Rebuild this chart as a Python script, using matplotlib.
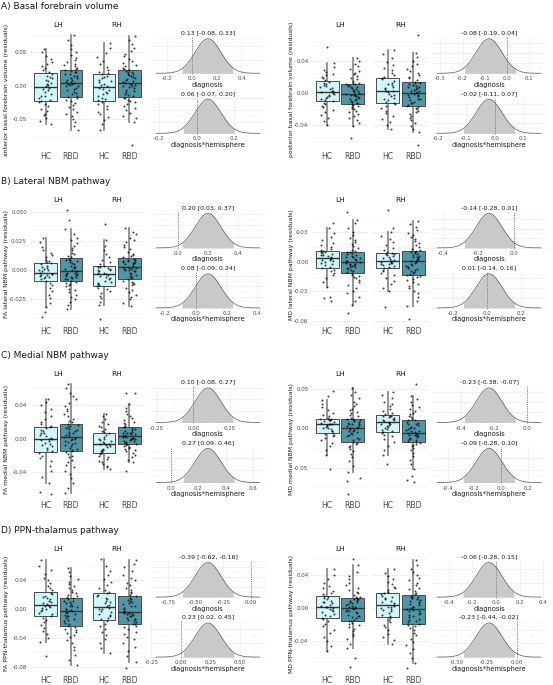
import numpy as np
import matplotlib
matplotlib.use("Agg")
import matplotlib.pyplot as plt
from matplotlib.ticker import MultipleLocator, AutoMinorLocator, FixedLocator, FuncFormatter, MaxNLocator

plt.rcParams['font.family'] = ['DejaVu Sans']

# ---------------- data ----------------
row_titles = ["A) Basal forebrain volume", "B) Lateral NBM pathway",
              "C) Medial NBM pathway", "D) PPN-thalamus pathway"]
hemis = ["LH", "RH"]
groups = ["HC", "RBD"]

# panel order: abf, pbf, fa_lat, md_lat, fa_med, md_med, fa_ppn, md_ppn
ylabels = ["anterior basal forebrain volume (residuals)",
           "posterior basal forebrain volume (residuals)",
           "FA lateral NBM pathway (residuals)",
           "MD lateral NBM pathway (residuals)",
           "FA medial NBM pathway (residuals)",
           "MD medial NBM pathway (residuals)",
           "FA PPN-thalamus pathway (residuals)",
           "MD PPN-thalamus pathway (residuals)"]

yticks_abf = ["-0.05", "0.00", "0.05"]
yticks_pbf = ["-0.04", "0.00", "0.04"]
yticks_fa_lat = ["-0.025", "0.000", "0.025", "0.050"]
yticks_md_lat = ["-0.06", "-0.03", "0.00", "0.03"]
yticks_fa_med = ["-0.04", "0.00", "0.04"]
yticks_md_med = ["-0.05", "0.00", "0.05"]
yticks_fa_ppn = ["-0.08", "-0.04", "0.00", "0.04"]
yticks_md_ppn = ["-0.04", "0.00", "0.04"]

# residual values (units of 1e-3)
abf_lh_hc = [-57,-53,-49,-44,-42,-38,-35,-31,-28,-25,-23,-21,-18,-16,-15,-12,-9,-7,-5,-3,
             -1,1,3,4,7,9,11,13,15,18,20,23,26,29,33,36,40,45,50,55]
abf_lh_rbd = [-66,-61,-55,-50,-46,-42,-39,-35,-32,-29,-26,-23,-21,-19,
              -17,-15,-13,-11,-9,-7,-5,-3,-1,0,1,2,3,4,
              5,6,8,9,11,12,14,15,17,18,20,21,22,24,
              25,27,29,31,33,36,39,42,46,50,55,61,68,76]
abf_rh_hc = [-66,-58,-52,-47,-43,-39,-35,-31,-27,-24,-22,-20,-18,-15,-13,-11,-9,-7,-5,-3,
             -1,1,3,5,7,9,11,13,15,17,19,21,24,28,32,37,43,49,56,64]
abf_rh_rbd = [-88,-54,-49,-45,-41,-37,-34,-31,-28,-25,-23,-21,-19,-18,
              -16,-14,-12,-10,-8,-6,-4,-2,-1,0,1,2,3,4,
              5,7,8,10,11,13,14,16,17,18,20,21,22,24,
              25,27,29,31,34,37,40,44,48,52,57,63,69,75]

pbf_lh_hc = [-40,-35,-31,-27,-24,-21,-18,-16,-14,-12,-10,-9,-8,-6,-5,-4,-2,-1,0,1,
             2,3,5,6,7,9,10,11,13,14,16,18,20,22,24,26,29,32,37,57]
pbf_lh_rbd = [-56,-41,-37,-34,-31,-28,-26,-24,-22,-20,-19,-18,-16,-15,
              -14,-13,-12,-11,-10,-9,-8,-7,-6,-5,-4,-3,-3,-2,
              -1,0,1,2,3,4,5,6,7,8,9,10,11,11,
              12,13,15,17,19,21,23,25,27,30,33,36,40,43]
pbf_rh_hc = [-45,-40,-36,-32,-28,-25,-22,-19,-16,-14,-12,-11,-9,-7,-6,-4,-2,-1,1,2,
             3,5,6,8,10,11,13,15,17,18,20,22,25,28,31,35,39,43,48,53]
pbf_rh_rbd = [-64,-49,-45,-41,-37,-34,-31,-28,-26,-24,-22,-20,-19,-17,
              -16,-15,-13,-12,-11,-9,-8,-7,-5,-4,-3,-2,-1,0,
              0,1,2,3,4,5,6,7,8,9,10,11,12,13,
              14,16,18,20,22,25,27,30,33,36,40,45,50,72]

fa_lat_lh_hc = [-40,-36,-32,-28,-24,-21,-18,-15,-13,-11,-9,-8,-7,-6,-6,-5,-4,-4,-3,-3,
                -2,-1,0,0,1,2,3,4,5,6,7,8,9,11,13,15,17,20,24,28]
fa_lat_lh_rbd = [-33,-30,-27,-25,-23,-21,-19,-17,-16,-14,-13,-12,-11,-10,
                 -9,-8,-8,-7,-6,-6,-5,-4,-4,-3,-3,-2,-2,-1,
                 -1,0,1,2,3,3,4,5,6,7,8,9,9,10,
                 11,12,14,15,17,19,21,23,26,28,31,35,43,52]
fa_lat_rh_hc = [-42,-30,-27,-24,-22,-20,-18,-16,-15,-14,-13,-12,-11,-10,-9,-8,-7,-6,-5,-4,
                -3,-2,-2,-1,0,0,1,2,3,3,4,5,7,9,11,14,17,21,26,40]
fa_lat_rh_rbd = [-31,-28,-25,-23,-21,-19,-17,-15,-13,-12,-11,-10,-9,-8,
                 -7,-6,-5,-4,-3,-2,-1,-1,0,0,1,1,2,2,
                 3,3,4,5,5,6,6,7,7,8,8,9,9,10,
                 11,12,13,14,16,18,20,22,24,26,28,31,33,36]

md_lat_lh_hc = [-40,-37,-36,-25,-20,-16,-13,-11,-9,-8,-6,-5,-3,-2,-1,0,1,2,2,3,
                4,5,6,7,7,8,9,10,10,11,12,13,15,17,19,22,25,29,34,39]
md_lat_lh_rbd = [-52,-44,-40,-36,-32,-29,-26,-23,-20,-18,-16,-15,-14,-13,
                 -11,-10,-9,-8,-7,-6,-5,-5,-4,-3,-3,-2,-2,-1,
                 0,1,1,2,3,4,5,5,6,7,8,9,10,10,
                 11,12,14,16,18,20,22,24,27,30,34,39,42,51]
md_lat_rh_hc = [-46,-30,-26,-22,-19,-16,-13,-11,-9,-8,-6,-5,-4,-3,-2,-2,-1,-1,0,0,
                1,2,3,4,5,6,7,8,8,9,10,12,14,17,20,23,26,30,34,53]
md_lat_rh_rbd = [-58,-45,-40,-36,-32,-29,-26,-24,-22,-20,-18,-17,-15,-14,
                 -13,-12,-11,-10,-9,-8,-7,-6,-5,-4,-3,-2,-1,0,
                 1,1,2,3,4,5,5,6,7,8,9,10,10,11,
                 12,13,15,17,19,21,23,25,27,29,32,35,38,41]

fa_med_lh_hc = [-65,-63,-52,-45,-38,-32,-27,-23,-20,-17,-15,-13,-11,-9,-8,-6,-5,-3,-2,-1,
                0,1,3,4,6,7,9,10,12,13,15,17,20,23,27,31,35,39,43,46]
fa_med_lh_rbd = [-64,-58,-52,-47,-42,-38,-34,-31,-28,-25,-22,-20,-18,-16,
                 -15,-14,-12,-11,-9,-8,-6,-5,-4,-3,-2,-1,0,1,
                 2,3,4,5,6,8,9,10,11,12,14,15,16,17,
                 19,21,23,26,29,32,35,38,42,46,50,54,59,64]
fa_med_rh_hc = [-36,-34,-32,-30,-28,-26,-24,-22,-20,-18,-17,-16,-15,-14,-13,-12,-10,-9,-8,-7,
                -6,-5,-4,-3,-2,-1,0,2,4,6,8,9,11,13,15,17,20,23,26,29]
fa_med_rh_rbd = [-38,-28,-25,-22,-19,-17,-15,-13,-12,-11,-10,-9,-8,-7,
                 -6,-5,-4,-3,-3,-2,-1,-1,0,0,1,1,2,2,
                 3,3,4,5,5,6,7,7,8,9,10,11,12,13,
                 14,15,17,18,20,22,24,26,29,32,36,41,54,54]

md_med_lh_hc = [-52,-34,-28,-23,-19,-15,-12,-10,-8,-7,-6,-4,-3,-1,0,1,2,3,4,5,
                5,6,7,8,9,10,10,11,12,12,13,15,17,20,23,27,31,36,41,47]
md_med_lh_rbd = [-83,-67,-63,-55,-48,-42,-37,-33,-29,-26,-24,-22,-20,-19,
                 -17,-15,-13,-12,-10,-9,-7,-6,-5,-4,-3,-2,-1,0,
                 1,2,3,4,5,6,6,7,8,9,10,11,12,12,
                 13,15,17,19,21,23,25,28,31,34,38,42,46,51]
md_med_rh_hc = [-45,-34,-28,-22,-17,-13,-10,-8,-6,-5,-4,-2,-1,1,2,3,4,5,6,7,
                8,9,10,11,12,13,14,15,16,16,18,20,22,25,28,31,34,38,42,46]
md_med_rh_rbd = [-68,-66,-60,-52,-45,-40,-35,-31,-28,-25,-23,-21,-20,-19,
                 -17,-16,-15,-14,-13,-12,-11,-10,-9,-8,-8,-7,-6,-6,
                 -5,-4,-3,-2,-1,0,1,2,4,5,6,7,8,10,
                 11,12,14,16,18,20,22,24,27,30,33,37,41,56]

fa_ppn_lh_hc = [-65,-45,-40,-35,-30,-26,-22,-18,-15,-12,-9,-7,-5,-3,-1,0,2,3,4,5,
                7,8,10,12,14,15,17,19,21,23,26,29,32,36,40,44,49,54,60,68]
fa_ppn_lh_rbd = [-77,-70,-63,-57,-52,-47,-43,-39,-36,-33,-31,-29,-27,-25,
                 -23,-21,-19,-17,-15,-14,-12,-10,-9,-8,-6,-5,-4,-3,
                 -2,-1,0,1,3,4,5,7,8,10,11,12,14,15,
                 17,18,20,22,24,26,29,32,35,38,42,46,51,57]
fa_ppn_rh_hc = [-61,-54,-47,-41,-36,-31,-27,-23,-20,-17,-14,-12,-10,-8,-6,-4,-2,0,1,2,
                4,6,8,10,12,14,16,18,20,22,24,27,30,34,38,42,47,53,60,70]
fa_ppn_rh_rbd = [-82,-73,-65,-58,-52,-47,-42,-38,-34,-31,-28,-25,-23,-21,
                 -20,-18,-17,-15,-14,-13,-12,-10,-9,-8,-7,-6,-5,-5,
                 -4,-2,0,2,4,5,7,8,10,11,13,14,16,18,
                 20,22,24,27,30,33,36,40,44,48,53,58,63,68]

md_ppn_lh_hc = [-52,-46,-40,-35,-30,-26,-22,-19,-16,-13,-12,-10,-8,-7,-5,-4,-2,-1,0,1,
                2,3,4,6,7,8,9,11,12,14,15,17,19,21,24,27,31,35,40,47]
md_ppn_lh_rbd = [-71,-61,-48,-43,-38,-34,-31,-28,-25,-23,-21,-19,-18,-16,
                 -15,-14,-12,-11,-10,-9,-8,-6,-5,-4,-3,-2,-1,0,
                 0,1,2,3,4,5,6,7,8,9,10,11,11,12,
                 13,14,16,18,20,22,25,28,31,35,39,44,53,60]
md_ppn_rh_hc = [-43,-39,-35,-31,-27,-23,-20,-17,-14,-12,-10,-8,-6,-4,-2,-1,0,1,2,3,
                4,6,8,9,11,12,14,15,17,18,20,22,24,26,29,32,35,39,43,47]
md_ppn_rh_rbd = [-73,-67,-61,-55,-50,-45,-41,-37,-33,-30,-27,-24,-22,-20,
                 -19,-17,-16,-14,-13,-11,-10,-8,-7,-6,-4,-3,-2,-1,
                 0,1,2,4,5,6,7,9,10,11,12,13,14,15,
                 17,19,21,23,25,28,31,34,37,40,44,48,53,58]

# posterior estimates [95% interval]
diag_est = [0.13, -0.08, 0.20, -0.14, 0.10, -0.23, -0.39, -0.06]
diag_lo = [-0.08, -0.19, 0.03, -0.28, -0.08, -0.38, -0.62, -0.28]
diag_hi = [0.33, 0.04, 0.37, 0.01, 0.27, -0.07, -0.16, 0.15]
int_est = [0.06, -0.02, 0.08, 0.01, 0.27, -0.09, 0.23, -0.23]
int_lo = [-0.07, -0.11, -0.09, -0.14, 0.09, -0.28, 0.02, -0.44]
int_hi = [0.20, 0.07, 0.24, 0.16, 0.46, 0.10, 0.45, -0.02]

panel_points = [
    [abf_lh_hc, abf_lh_rbd, abf_rh_hc, abf_rh_rbd],
    [pbf_lh_hc, pbf_lh_rbd, pbf_rh_hc, pbf_rh_rbd],
    [fa_lat_lh_hc, fa_lat_lh_rbd, fa_lat_rh_hc, fa_lat_rh_rbd],
    [md_lat_lh_hc, md_lat_lh_rbd, md_lat_rh_hc, md_lat_rh_rbd],
    [fa_med_lh_hc, fa_med_lh_rbd, fa_med_rh_hc, fa_med_rh_rbd],
    [md_med_lh_hc, md_med_lh_rbd, md_med_rh_hc, md_med_rh_rbd],
    [fa_ppn_lh_hc, fa_ppn_lh_rbd, fa_ppn_rh_hc, fa_ppn_rh_rbd],
    [md_ppn_lh_hc, md_ppn_lh_rbd, md_ppn_rh_hc, md_ppn_rh_rbd],
]
panel_yticks = [yticks_abf, yticks_pbf, yticks_fa_lat, yticks_md_lat,
                yticks_fa_med, yticks_md_med, yticks_fa_ppn, yticks_md_ppn]

# ---------------- style / layout ----------------
W, H = 553, 685
HC_COLOR = "#D2F7FB"
RBD_COLOR = "#4F97A7"
GRID = "#EBEBEB"
TXT = "#1A1A1A"
TICK = "#4D4D4D"
diag_step = [0.2, 0.1, 0.2, 0.2, 0.25, 0.2, 0.25, 0.2]
int_step = [0.2, 0.1, 0.2, 0.2, 0.2, 0.2, 0.25, 0.25]
ROW_OFF = 174.6
HALVES = [dict(ylab_x=6.5, lh_x=30.5, rh_x=89, pw=55.5, dens_x=151, dens_w=114),
          dict(ylab_x=291.5, lh_x=312, rh_x=372.5, pw=56, dens_x=432, dens_w=114)]

fig = plt.figure(figsize=(W / 100, H / 100), dpi=100)
fig.patch.set_facecolor("white")


def px_axes(x, y, w, h):
    return fig.add_axes([x / W, 1 - (y + h) / H, w / W, h / H])


def fig_text(x, y, s, **kw):
    fig.text(x / W, 1 - y / H, s, **kw)


def jitter(n, seed):
    # deterministic scatter of horizontal offsets (style only)
    k = np.arange(n) + 1.0 + seed * 97.0
    u = np.modf(np.abs(np.sin(k * 12.9898 + seed * 78.233)) * 43758.5453)[0]
    return (u - 0.5) * 2 * 0.27


def style_box_axes(ax, ticks, ylim, show_labels):
    for s in ax.spines.values():
        s.set_visible(False)
    ax.set_facecolor("white")
    vals = [float(t) for t in ticks]
    step = vals[1] - vals[0]
    ax.set_ylim(*ylim)
    ax.set_yticks(vals)
    if show_labels:
        ax.set_yticklabels(ticks)
    else:
        ax.set_yticklabels([])
    minors = [vals[0] + step * (k + 0.5) for k in range(-4, len(vals) + 4)]
    minors = [m for m in minors if ylim[0] <= m <= ylim[1]]
    ax.yaxis.set_minor_locator(FixedLocator(minors))
    ax.grid(which="major", axis="y", color=GRID, lw=0.6, zorder=0)
    ax.grid(which="minor", axis="y", color="#F2F2F2", lw=0.4, zorder=0)
    ax.set_axisbelow(True)
    ax.tick_params(axis="y", which="both", length=0, labelsize=4.1,
                   labelcolor=TICK, pad=2.6)
    ax.tick_params(axis="x", length=0, labelsize=5.6, labelcolor=TICK, pad=1.6)
    ax.set_xlim(0.4, 2.6)
    ax.set_xticks([1, 2])
    ax.set_xticklabels(groups)


def draw_boxes(ax, hc, rbd, seed):
    data = [np.asarray(hc) / 1000.0, np.asarray(rbd) / 1000.0]
    bp = ax.boxplot(data, positions=[1, 2], widths=0.9, whis=1.5, showfliers=False,
                    showcaps=False, patch_artist=True, manage_ticks=False,
                    boxprops=dict(edgecolor="#4A4A4A", linewidth=0.7),
                    medianprops=dict(color="#333333", linewidth=1.0),
                    whiskerprops=dict(color="#8C8C8C", linewidth=1.3))
    for patch, c in zip(bp["boxes"], [HC_COLOR, RBD_COLOR]):
        patch.set_facecolor(c)
        patch.set_zorder(2)
    for wl in bp["whiskers"]:
        wl.set_zorder(1.5)
    for ml in bp["medians"]:
        ml.set_zorder(2.5)
    for i, d in enumerate(data):
        ax.scatter(i + 1 + jitter(len(d), seed + 0.29 * i), d, s=2.1, color="black",
                   alpha=0.75, lw=0, zorder=3)


def fmt_factory(step):
    dec = 2 if abs(step * 10 - round(step * 10)) > 1e-9 else 1

    def f(v, pos):
        v = round(v, 6)
        if abs(v) < 1e-9:
            v = 0.0
        return f"{v:.{dec}f}"
    return FuncFormatter(f)


def draw_density(ax, est, lo, hi, step, xlabel):
    sd = (hi - lo) / 3.92
    x = np.linspace(est - 4.0 * sd, est + 4.0 * sd, 500)
    y = np.exp(-0.5 * ((x - est) / sd) ** 2) / (sd * np.sqrt(2 * np.pi))
    xf = np.linspace(lo, hi, 300)
    yf = np.exp(-0.5 * ((xf - est) / sd) ** 2) / (sd * np.sqrt(2 * np.pi))
    ax.fill_between(xf, 0, yf, color="#C9C9C9", lw=0, zorder=2)
    ax.plot(x, y, color="#5A5A5A", lw=0.5, zorder=3)
    ax.axvline(0, color="#555555", lw=0.6, ls=(0, (1, 1.6)), zorder=4)
    xmin, xmax = min(x[0], 0.0), max(x[-1], 0.0)
    r = xmax - xmin
    ax.set_xlim(xmin - 0.05 * r, xmax + 0.05 * r)
    ymax = y.max()
    ax.set_ylim(-0.05 * ymax, 1.05 * ymax)
    for s in ax.spines.values():
        s.set_visible(False)
    ax.xaxis.set_major_locator(MultipleLocator(step))
    ax.xaxis.set_minor_locator(AutoMinorLocator(2))
    ax.xaxis.set_major_formatter(fmt_factory(step))
    ax.yaxis.set_major_locator(MaxNLocator(4))
    ax.yaxis.set_minor_locator(AutoMinorLocator(2))
    ax.set_yticklabels([])
    ax.grid(which="major", color=GRID, lw=0.5, zorder=0)
    ax.grid(which="minor", color="#F3F3F3", lw=0.35, zorder=0)
    ax.set_axisbelow(True)
    ax.tick_params(axis="both", which="both", length=0)
    ax.tick_params(axis="x", labelsize=3.9, labelcolor=TICK, pad=1.0)
    ax.annotate(f"{est:.2f} [{lo:.2f}, {hi:.2f}]", xy=(0.5, 1), xycoords="axes fraction",
                xytext=(0, 2.9), textcoords="offset points", ha="center", va="center",
                fontsize=4.5, color=TXT)
    ax.annotate(xlabel, xy=(0.5, 0), xycoords="axes fraction",
                xytext=(0, -7.0), textcoords="offset points", ha="center", va="center",
                fontsize=4.8, color=TXT)


for row in range(4):
    off = row * ROW_OFF
    fig_text(1, 6.5 + off, row_titles[row], ha="left", va="center", fontsize=6.5, color=TXT)
    for half in range(2):
        p = row * 2 + half
        g = HALVES[half]
        pts = panel_points[p]
        allv = np.concatenate([np.asarray(a) for a in pts]) / 1000.0
        lo_v, hi_v = allv.min(), allv.max()
        pad = 0.05 * (hi_v - lo_v)
        ylim = (lo_v - pad, hi_v + pad)
        box_top, box_h = 29.5 + off, 120.5
        for hi_idx, hx in enumerate([g["lh_x"], g["rh_x"]]):
            ax = px_axes(hx, box_top, g["pw"], box_h)
            style_box_axes(ax, panel_yticks[p], ylim, hi_idx == 0)
            draw_boxes(ax, pts[2 * hi_idx], pts[2 * hi_idx + 1], p + 0.5 * hi_idx)
            ax.annotate(hemis[hi_idx], xy=(0.5, 1), xycoords="axes fraction",
                        xytext=(0, 3.3), textcoords="offset points", ha="center",
                        va="center", fontsize=5.3, color=TXT)
        fig_text(g["ylab_x"], box_top + box_h / 2, ylabels[p], rotation=90,
                 ha="center", va="center", fontsize=4.4, color=TXT)
        ax1 = px_axes(g["dens_x"], 37 + off, g["dens_w"], 38)
        draw_density(ax1, diag_est[p], diag_lo[p], diag_hi[p], diag_step[p], "diagnosis")
        ax2 = px_axes(g["dens_x"], 97.5 + off, g["dens_w"], 37.5)
        draw_density(ax2, int_est[p], int_lo[p], int_hi[p], int_step[p],
                     "diagnosis*hemisphere")

fig.savefig("out.png", dpi=100, facecolor="white")
